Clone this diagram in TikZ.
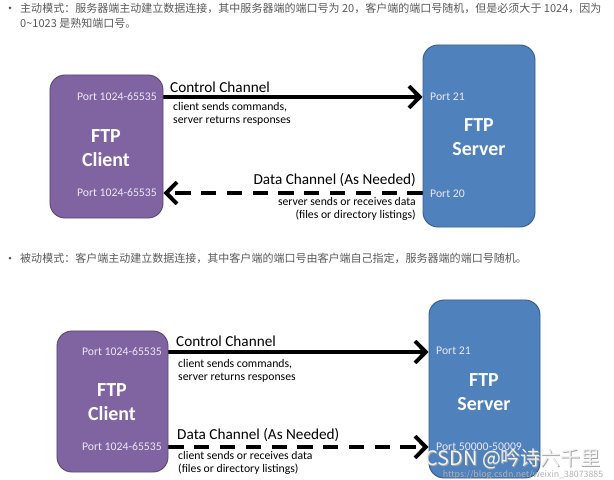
\documentclass[tikz,border=0pt]{standalone}
\usepackage{fontspec}
\setmainfont{Carlito}
\newfontfamily\cjk{Noto Sans CJK SC}
\usetikzlibrary{arrows.meta}
\pgfdeclarelayer{edgelayer}
\pgfdeclarelayer{nodelayer}
\pgfsetlayers{edgelayer,nodelayer,main}
\tikzstyle{none}=[inner sep=0pt]
\definecolor{clientfill}{RGB}{128,100,162}
\definecolor{clientline}{RGB}{92,71,118}
\definecolor{serverfill}{RGB}{79,129,189}
\definecolor{serverline}{RGB}{56,93,138}
\definecolor{notegray}{RGB}{89,89,89}
\tikzstyle{client}=[rectangle, rounded corners=4.5mm, fill=clientfill, draw=clientline, line width=0.8pt]
\tikzstyle{server}=[rectangle, rounded corners=4.5mm, fill=serverfill, draw=serverline, line width=0.8pt]
\tikzstyle{port}=[inner sep=0pt, text=white!85!clientfill, font=\fontsize{10}{12}\selectfont]
\tikzstyle{title}=[inner sep=0pt, text=white, align=center, font=\bfseries\fontsize{17}{20}\selectfont]
\tikzstyle{channel}=[inner sep=0pt, font=\fontsize{13}{15}\selectfont]
\tikzstyle{remark}=[inner sep=0pt, font=\fontsize{10}{11.1}\selectfont]
\tikzstyle{note}=[inner sep=0pt, anchor=west, text=notegray, font=\cjk\fontsize{9.4}{11}\selectfont]
\tikzstyle{bullet}=[circle, inner sep=0pt, minimum size=0.09cm, fill=notegray]
\tikzstyle{solidarrow}=[line width=3.4pt, -{Straight Barb[length=3.2mm,width=6.5mm]}]
\tikzstyle{dasharrow}=[solidarrow, dash pattern=on 13pt off 9pt]

\begin{document}
\begin{tikzpicture}[x=0.03cm, y=-0.03cm]
    \useasboundingbox (0,0) rectangle (614,480);
    % notes
    \node [bullet] (b1) at (10,8) {};
    \node [note] (n1) at (20,8) {主动模式：服务器端主动建立数据连接，其中服务器端的端口号为 20，客户端的端口号随机，但是必须大于 1024，因为};
    \node [note] (n2) at (20,23) {0\textasciitilde1023 是熟知端口号。};
    \node [bullet] (b2) at (10,258) {};
    \node [note] (n3) at (20,258) {被动模式：客户端主动建立数据连接，其中客户端的端口号由客户端自己指定，服务器端的端口号随机。};
    \begin{pgfonlayer}{nodelayer}
	\node [client, minimum width=3.39cm, minimum height=4.29cm] (client1) at (106.5,146.5) {};
	\node [server, minimum width=3.36cm, minimum height=5.46cm] (server1) at (479,136) {};
	\node [port, anchor=east] (cport1) at (157,97) {Port 1024-65535};
	\node [port, anchor=east] (cport2) at (157,193) {Port 1024-65535};
	\node [title] (ctitle1) at (106,148) {FTP\\Client};
	\node [port, anchor=west] (sport1) at (430,97) {Port 21};
	\node [port, anchor=west] (sport2) at (430,194) {Port 20};
	\node [title] (stitle1) at (479,137) {FTP\\Server};
	\node [channel, anchor=west] (ctl1) at (170,87) {Control Channel};
	\node [remark, anchor=north west, align=left] (ctlnote1) at (173,102) {client sends commands,\\server returns responses};
	\node [channel, anchor=east] (data1) at (416,180) {Data Channel (As Needed)};
	\node [remark, anchor=north east, align=right] (datanote1) at (416,197) {server sends or receives data\\(files or directory listings)};
    \end{pgfonlayer}
    \begin{pgfonlayer}{edgelayer}
	\draw [solidarrow] (client1.east |- cport1) to (server1.west |- cport1);
	\draw [dasharrow] (server1.west |- cport2) to (client1.east |- cport2);
    \end{pgfonlayer}
    \begin{pgfonlayer}{nodelayer}
	\node [client, minimum width=3.33cm, minimum height=4.23cm] (client2) at (112.5,401.5) {};
	\node [server, minimum width=3.33cm, minimum height=5.34cm] (server2) at (484.5,389) {};
	\node [port, anchor=east] (cport3) at (162,352) {Port 1024-65535};
	\node [port, anchor=east] (cport4) at (162,447) {Port 1024-65535};
	\node [title] (ctitle2) at (112,402) {FTP\\Client};
	\node [port, anchor=west] (sport3) at (436,351) {Port 21};
	\node [port, anchor=west] (sport4) at (436,447) {Port 50000-50009};
	\node [title] (stitle2) at (484,392) {FTP\\Server};
	\node [channel, anchor=west] (ctl2) at (176,341) {Control Channel};
	\node [remark, anchor=north west, align=left] (ctlnote2) at (178,359) {client sends commands,\\server returns responses};
	\node [channel, anchor=west] (data2) at (177,435) {Data Channel (As Needed)};
	\node [remark, anchor=north west, align=left] (datanote2) at (178,451) {client sends or receives data\\(files or directory listings)};
    \end{pgfonlayer}
    \begin{pgfonlayer}{edgelayer}
	\draw [solidarrow] (client2.east |- cport3) to (server2.west |- cport3);
	\draw [dasharrow] (client2.east |- cport4) to (server2.west |- cport4);
    \end{pgfonlayer}
    % watermark
    \node [none, text=gray!70, font=\cjk\fontsize{17}{20}\selectfont] (markshadow) at (513.8,459.8) {CSDN @吟诗六千里};
    \node [none, text=white!95!black, font=\cjk\fontsize{17}{20}\selectfont] (mark) at (513,459) {CSDN @吟诗六千里};
    \node [none, text=white!70!black, font=\cjk\fontsize{7.5}{9}\selectfont] (url) at (523,475) {https://blog.csdn.net/weixin\_38073885};
\end{tikzpicture}
\end{document}
